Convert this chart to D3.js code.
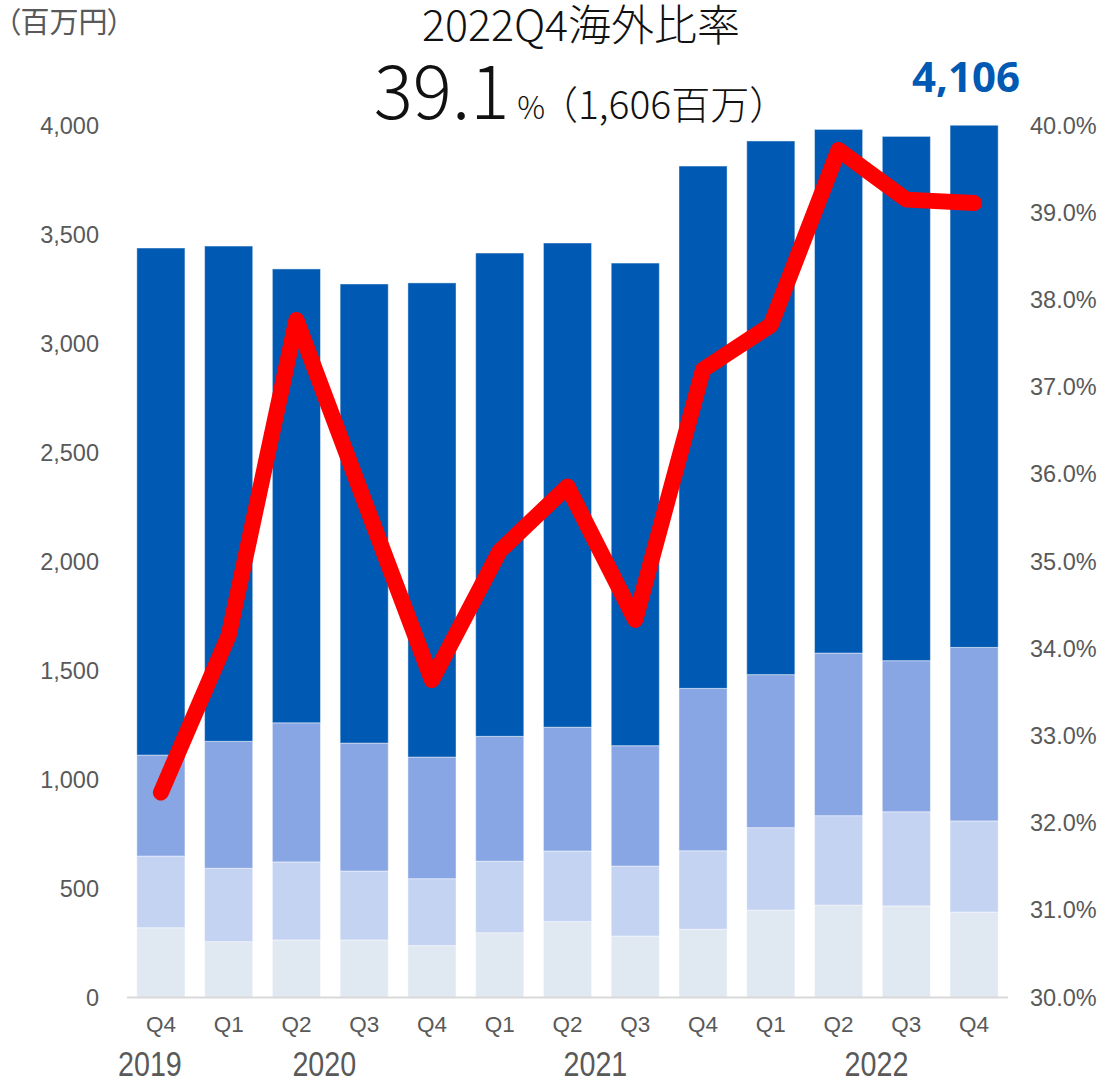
<!DOCTYPE html>
<html>
<head>
<meta charset="utf-8">
<script src="https://cdn.jsdelivr.net/npm/d3@7"></script>
<style>
  body { margin: 0; background: #fff; }
  svg { display: block; }
</style>
</head>
<body>
<div id="chart"></div>
<script>
// quarters on the x axis
const periods = ["2019Q4", "2020Q1", "2020Q2", "2020Q3", "2020Q4", "2021Q1", "2021Q2", "2021Q3", "2021Q4", "2022Q1", "2022Q2", "2022Q3", "2022Q4"];
const quarterLabels = ["Q4", "Q1", "Q2", "Q3", "Q4", "Q1", "Q2", "Q3", "Q4", "Q1", "Q2", "Q3", "Q4"];
const years = ["2019", "2020", "2021", "2022"];

// sales (百万円), stacked bottom -> top
const overseasA = [320, 256, 264, 264, 238, 297, 348, 282, 313, 401, 424, 420, 392];
const overseasB = [329, 337, 358, 316, 307, 328, 324, 321, 360, 378, 410, 432, 418];
const overseasC = [463, 582, 638, 587, 558, 573, 568, 552, 745, 702, 746, 693, 796];
const domestic  = [2326, 2272, 2082, 2106, 2175, 2217, 2221, 2214, 2396, 2448, 2402, 2405, 2500];

// overseas ratio (%)
const overseasRatio = [32.35, 34.15, 37.77, 35.7, 33.64, 35.12, 35.86, 34.33, 37.2, 37.71, 39.72, 39.15, 39.11];

const leftTicks = [0, 500, 1000, 1500, 2000, 2500, 3000, 3500, 4000];
const rightTicks = [30, 31, 32, 33, 34, 35, 36, 37, 38, 39, 40];

const keys = ["overseasA", "overseasB", "overseasC", "domestic"];
const colors = {overseasA: "#e0e8f2", overseasB: "#c4d3f2", overseasC: "#88a6e4", domestic: "#0059b2"};

const rows = periods.map((p, i) => ({
    period: p,
    overseasA: overseasA[i],
    overseasB: overseasB[i],
    overseasC: overseasC[i],
    domestic: domestic[i]
}));

const W = 1101, H = 1083;
const margin = {top: 125.5, right: 93, bottom: 85.5, left: 127};
const labelFont = "'Liberation Sans', Arial, sans-serif";

const svg = d3.select("#chart").append("svg")
    .attr("width", W)
    .attr("height", H);

const x = d3.scaleBand()
    .domain(periods)
    .range([margin.left, W - margin.right])
    .paddingInner(0.29)
    .paddingOuter(0.145);

const y = d3.scaleLinear()
    .domain([0, 4000])
    .range([H - margin.bottom, margin.top]);

const y2 = d3.scaleLinear()
    .domain([30, 40])
    .range([H - margin.bottom, margin.top]);

svg.append("clipPath").attr("id", "plot")
  .append("rect")
    .attr("x", margin.left)
    .attr("y", margin.top)
    .attr("width", W - margin.left - margin.right)
    .attr("height", H - margin.top - margin.bottom);

const stack = d3.stack().keys(keys)(rows);

svg.append("g")
    .attr("clip-path", "url(#plot)")
  .selectAll("g")
  .data(stack)
  .join("g")
    .attr("fill", d => colors[d.key])
  .selectAll("rect")
  .data(d => d)
  .join("rect")
    .attr("x", d => x(d.data.period))
    .attr("y", d => y(d[1]))
    .attr("height", d => y(d[0]) - y(d[1]))
    .attr("width", x.bandwidth())
    .attr("stroke", "#fff")
    .attr("stroke-opacity", 0.45)
    .attr("stroke-width", 1);

// baseline
svg.append("line")
    .attr("x1", margin.left)
    .attr("x2", W - margin.right)
    .attr("y1", y(0))
    .attr("y2", y(0))
    .attr("stroke", "#d9d9d9")
    .attr("stroke-width", 2);

// left axis
svg.append("g")
    .attr("transform", `translate(${margin.left},0)`)
    .call(d3.axisLeft(y).tickValues(leftTicks).tickSize(0).tickPadding(28).tickFormat(d3.format(",")))
    .call(g => g.select(".domain").remove())
    .call(g => g.selectAll("text")
        .attr("fill", "#595959")
        .style("font-family", labelFont)
        .style("font-size", "23.5px"));

// right axis
svg.append("g")
    .attr("transform", `translate(${W - margin.right},0)`)
    .call(d3.axisRight(y2).tickValues(rightTicks).tickSize(0).tickPadding(22).tickFormat(d => d.toFixed(1) + "%"))
    .call(g => g.select(".domain").remove())
    .call(g => g.selectAll("text")
        .attr("fill", "#595959")
        .style("font-family", labelFont)
        .style("font-size", "23.5px"));

// bottom axis: quarters
svg.append("g")
    .attr("transform", `translate(0,${y(0)})`)
    .call(d3.axisBottom(x).tickSize(0).tickPadding(19).tickFormat((d, i) => quarterLabels[i]))
    .call(g => g.select(".domain").remove())
    .call(g => g.selectAll("text")
        .attr("fill", "#595959")
        .style("font-family", labelFont)
        .style("font-size", "22.5px"));

// years under the quarter groups (narrow type)
const yearGroups = years.map(yr => periods.filter(p => p.startsWith(yr)));
const yearShift = [-11, -6, -6, 4];
svg.append("g")
  .selectAll("text")
  .data(yearGroups)
  .join("text")
    .attr("transform", (g, i) => {
        const a = x(g[0]), b = x(g[g.length - 1]) + x.bandwidth();
        return `translate(${(a + b) / 2 + yearShift[i]},1076) scale(0.82,1)`;
    })
    .attr("text-anchor", "middle")
    .attr("fill", "#595959")
    .style("font-family", labelFont)
    .style("font-size", "35px")
    .text((g, i) => years[i]);

// ratio line
const line = d3.line()
    .x((d, i) => x(periods[i]) + x.bandwidth() / 2)
    .y(d => y2(d));

svg.append("path")
    .datum(overseasRatio)
    .attr("fill", "none")
    .attr("stroke", "#ff0000")
    .attr("stroke-width", 16)
    .attr("stroke-linecap", "round")
    .attr("stroke-linejoin", "round")
    .attr("d", line);

// unit label
svg.append("text")
    .attr("x", 6)
    .attr("y", 33)
    .attr("fill", "#595959")
    .style("font-family", "'Noto Sans CJK JP', sans-serif")
    .style("font-feature-settings", "'palt'")
    .style("font-size", "29px")
    .text("（百万円）");

// headline
const cjk = "'Noto Sans CJK JP', 'Noto Sans', sans-serif";
svg.append("text")
    .attr("x", 581)
    .attr("y", 41)
    .attr("text-anchor", "middle")
    .attr("fill", "#111")
    .style("font-family", cjk)
    .style("font-weight", 300)
    .style("font-size", "43px")
    .text("2022Q4海外比率");

const big = svg.append("text")
    .attr("x", 581)
    .attr("y", 119)
    .attr("text-anchor", "middle")
    .attr("fill", "#111")
    .style("font-family", cjk)
    .style("font-weight", 300);
big.append("tspan").style("font-size", "73px").text(overseasRatio[overseasRatio.length - 1].toFixed(1));
big.append("tspan").style("font-size", "31px").attr("dx", 8).text("%");
big.append("tspan").style("font-size", "39px").attr("dx", -6).text("（1,606百万）");

// total label above last bar
const last = periods.length - 1;
svg.append("text")
    .attr("x", x(periods[last]) + x.bandwidth() / 2 - 8)
    .attr("y", 92)
    .attr("text-anchor", "middle")
    .attr("fill", "#0059b2")
    .style("font-family", "'Noto Sans', sans-serif")
    .style("font-weight", 700)
    .style("font-size", "42px")
    .text(d3.format(",")(overseasA[last] + overseasB[last] + overseasC[last] + domestic[last]));
</script>
</body>
</html>
